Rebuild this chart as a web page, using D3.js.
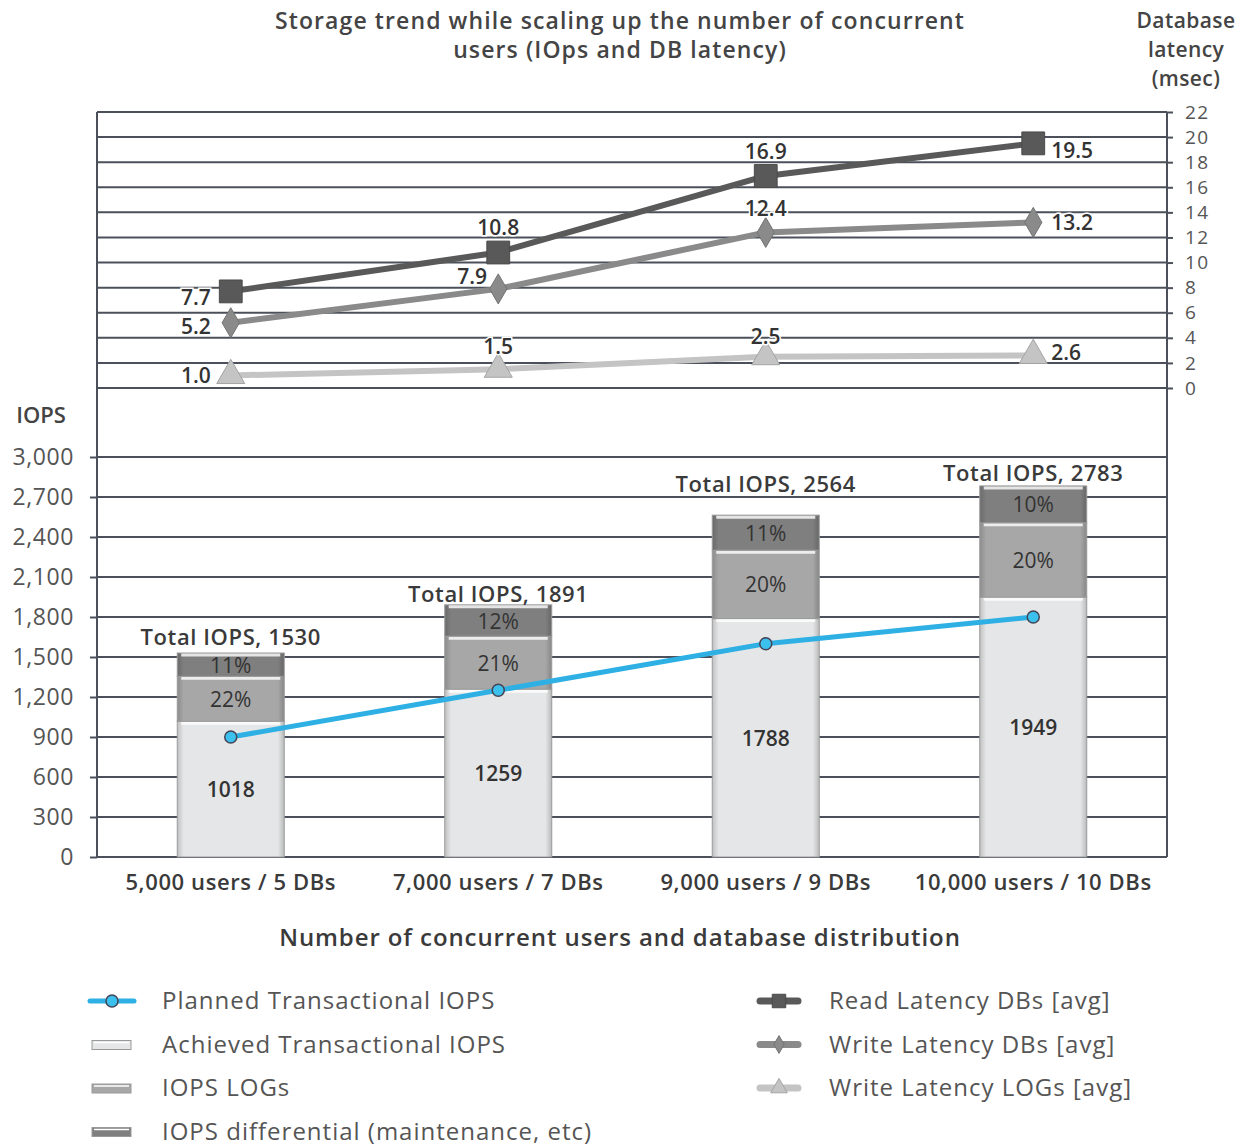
<!DOCTYPE html>
<html>
<head>
<meta charset="utf-8">
<script src="https://cdn.jsdelivr.net/npm/d3@7"></script>
<style>
  body { margin: 0; background: #fff; }
  text { font-family: "Open Sans", sans-serif; }
</style>
</head>
<body>
<div id="chart"></div>
<script>
// data
var categories = ["5,000 users / 5 DBs", "7,000 users / 7 DBs", "9,000 users / 9 DBs", "10,000 users / 10 DBs"];
var achieved = [1018, 1259, 1788, 1949];
var logs = [337, 397, 513, 557];
var differential = [175, 235, 263, 277];
var totals = [1530, 1891, 2564, 2783];
var logsPct = ["22%", "21%", "20%", "20%"];
var diffPct = ["11%", "12%", "11%", "10%"];
var planned = [900, 1250, 1600, 1800];
var readLatency = [7.7, 10.8, 16.9, 19.5];
var writeLatency = [5.2, 7.9, 12.4, 13.2];
var logLatency = [1.0, 1.5, 2.5, 2.6];
var iopsTicks = [0, 300, 600, 900, 1200, 1500, 1800, 2100, 2400, 2700, 3000];
var latTicks = [0, 2, 4, 6, 8, 10, 12, 14, 16, 18, 20, 22];

var W = 1248, H = 1146;
var left = 97, right = 1167;

var svg = d3.select("#chart").append("svg")
  .attr("width", W).attr("height", H);

var defs = svg.append("defs");
function barGrad(id, c) {
  var g = defs.append("linearGradient").attr("id", id).attr("x1", 0).attr("x2", 1).attr("y1", 0).attr("y2", 0);
  g.append("stop").attr("offset", "0%").attr("stop-color", d3.color(c).darker(0.5));
  g.append("stop").attr("offset", "6%").attr("stop-color", c);
  g.append("stop").attr("offset", "94%").attr("stop-color", c);
  g.append("stop").attr("offset", "100%").attr("stop-color", d3.color(c).darker(0.6));
}
barGrad("gAch", "#e5e6e7");
barGrad("gLog", "#a7a7a7");
barGrad("gDif", "#7f7f7f");

var x = d3.scaleBand().domain(categories).range([left, right]).paddingInner(0.6).paddingOuter(0.3);
var xc = function (i) { return x(categories[i]) + x.bandwidth() / 2; };
var yI = d3.scaleLinear().domain([0, 3000]).range([857, 457]);
var yL = d3.scaleLinear().domain([0, 22]).range([388, 112]);

var gridCol = "#4b505a";

// IOPS axis + grid
var axI = svg.append("g").attr("transform", "translate(" + left + ",0)")
  .call(d3.axisLeft(yI).tickValues(iopsTicks).tickFormat(d3.format(",")).tickSize(7).tickPadding(16));
axI.select(".domain").remove();
axI.selectAll("line").attr("stroke", gridCol).attr("stroke-width", 2);
axI.selectAll("text").attr("font-size", 23).attr("fill", "#555")
  .attr("letter-spacing", 0.6).attr("font-family", "'Open Sans', sans-serif");
svg.append("g").selectAll("line").data(iopsTicks).enter().append("line")
  .attr("x1", left).attr("x2", right).attr("y1", yI).attr("y2", yI)
  .attr("stroke", gridCol).attr("stroke-width", 2);

// latency axis + grid
var axL = svg.append("g").attr("transform", "translate(" + right + ",0)")
  .call(d3.axisRight(yL).tickValues(latTicks).tickSize(6).tickPadding(12));
axL.select(".domain").remove();
axL.selectAll("line").attr("stroke", gridCol).attr("stroke-width", 2);
axL.selectAll("text").attr("font-size", 19).attr("fill", "#555")
  .attr("letter-spacing", 1.3).attr("font-family", "'Open Sans', sans-serif");
svg.append("g").selectAll("line").data(latTicks).enter().append("line")
  .attr("x1", left).attr("x2", right).attr("y1", yL).attr("y2", yL)
  .attr("stroke", gridCol).attr("stroke-width", 2);

// frame sides
svg.append("line").attr("x1", left).attr("x2", left).attr("y1", yL(22)).attr("y2", yI(0))
  .attr("stroke", gridCol).attr("stroke-width", 2);
svg.append("line").attr("x1", right).attr("x2", right).attr("y1", yL(22)).attr("y2", yI(0))
  .attr("stroke", gridCol).attr("stroke-width", 2);

// stacked bars
var stackRows = categories.map(function (c, i) {
  return { cat: c, achieved: achieved[i], logs: logs[i], diff: differential[i] };
});
var stacked = d3.stack().keys(["achieved", "logs", "diff"])(stackRows);
var fills = { achieved: "url(#gAch)", logs: "url(#gLog)", diff: "url(#gDif)" };
var bars = svg.append("g");
stacked.forEach(function (layer) {
  var g = bars.append("g");
  g.selectAll("rect").data(layer).enter().append("rect")
    .attr("x", function (d) { return x(d.data.cat); })
    .attr("width", x.bandwidth())
    .attr("y", function (d) { return yI(d[1]); })
    .attr("height", function (d) { return yI(d[0]) - yI(d[1]); })
    .attr("fill", fills[layer.key])
    .attr("stroke", "#9a9a9a").attr("stroke-width", 1);
  // top highlight
  g.selectAll("line").data(layer).enter().append("line")
    .attr("x1", function (d) { return x(d.data.cat) + 4; })
    .attr("x2", function (d) { return x(d.data.cat) + x.bandwidth() - 4; })
    .attr("y1", function (d) { return yI(d[1]) + 2; })
    .attr("y2", function (d) { return yI(d[1]) + 2; })
    .attr("stroke", "#fff").attr("stroke-opacity", 0.8).attr("stroke-width", 3);
});

// bar labels
var totalDy = [-8, -3, -23, -5];
var lbl = svg.append("g").attr("text-anchor", "middle").attr("fill", "#333").attr("font-size", 21);
categories.forEach(function (c, i) {
  var s0 = stacked[0][i], s1 = stacked[1][i], s2 = stacked[2][i];
  lbl.append("text").attr("x", xc(i)).attr("y", (yI(s0[0]) + yI(s0[1])) / 2 + 8)
    .attr("font-weight", 600).text(achieved[i]);
  lbl.append("text").attr("x", xc(i)).attr("y", (yI(s1[0]) + yI(s1[1])) / 2 + 8).text(logsPct[i]);
  lbl.append("text").attr("x", xc(i)).attr("y", (yI(s2[0]) + yI(s2[1])) / 2 + 8).text(diffPct[i]);
  lbl.append("text").attr("x", xc(i)).attr("y", yI(totals[i]) + totalDy[i])
    .attr("font-size", 22).attr("letter-spacing", 0.6)
    .attr("font-weight", 600).attr("fill", "#3a3a3a").text("Total IOPS, " + totals[i]);
});

// planned IOPS line
var plannedLine = d3.line().x(function (d, i) { return xc(i); }).y(function (d) { return yI(d); });
svg.append("path").datum(planned).attr("d", plannedLine)
  .attr("fill", "none").attr("stroke", "#2eb0e4").attr("stroke-width", 5);
svg.append("g").selectAll("circle").data(planned).enter().append("circle")
  .attr("cx", function (d, i) { return xc(i); }).attr("cy", yI)
  .attr("r", 6).attr("fill", "#3cc0ee").attr("stroke", "#445").attr("stroke-width", 1.5);

// latency series
var latSeries = [
  { vals: logLatency, color: "#c4c4c4", mark: d3.symbolTriangle, msize: 340,
    pos: [[-20, 8, "end"], [0, -15, "middle"], [0, -13, "middle"], [18, 5, "start"]] },
  { vals: writeLatency, color: "#8a8a8a", mark: d3.symbolDiamond, msize: 260,
    pos: [[-20, 11, "end"], [-26, -5, "middle"], [0, -16, "middle"], [18, 8, "start"]] },
  { vals: readLatency, color: "#595959", mark: d3.symbolSquare, msize: 520,
    pos: [[-20, 14, "end"], [0, -18, "middle"], [0, -17, "middle"], [18, 15, "start"]] }
];
var latLine = d3.line().x(function (d, i) { return xc(i); }).y(function (d) { return yL(d); });
latSeries.forEach(function (s) {
  svg.append("path").datum(s.vals).attr("d", latLine)
    .attr("fill", "none").attr("stroke", s.color).attr("stroke-width", 6);
});
latSeries.forEach(function (s) {
  svg.append("g").selectAll("path").data(s.vals).enter().append("path")
    .attr("d", d3.symbol().type(s.mark).size(s.msize))
    .attr("transform", function (d, i) { return "translate(" + xc(i) + "," + yL(d) + ")"; })
    .attr("fill", s.color).attr("stroke", d3.color(s.color).darker(0.5)).attr("stroke-width", 1);
  svg.append("g").selectAll("text").data(s.vals).enter().append("text")
    .attr("x", function (d, i) { return xc(i) + s.pos[i][0]; })
    .attr("y", function (d, i) { return yL(d) + s.pos[i][1]; })
    .attr("text-anchor", function (d, i) { return s.pos[i][2]; })
    .attr("font-size", 21).attr("fill", "#333").attr("font-weight", 600)
    .attr("paint-order", "stroke").attr("stroke", "#fff").attr("stroke-width", 3)
    .text(function (d) { return d.toFixed(1); });
});

// category labels
svg.append("g").selectAll("text").data(categories).enter().append("text")
  .attr("x", function (d, i) { return xc(i); }).attr("y", 890)
  .attr("text-anchor", "middle").attr("font-size", 22).attr("letter-spacing", 0.6)
  .attr("font-weight", 600).attr("fill", "#3a3a3a")
  .text(function (d) { return d; });

// titles
var tt = svg.append("text").attr("text-anchor", "middle").attr("font-size", 23)
  .attr("letter-spacing", 1.1).attr("font-weight", 600).attr("fill", "#444");
tt.append("tspan").attr("x", 620).attr("y", 29).text("Storage trend while scaling up the number of concurrent");
tt.append("tspan").attr("x", 620).attr("y", 58).text("users (IOps and DB latency)");
var dl = svg.append("text").attr("text-anchor", "middle").attr("font-size", 21)
  .attr("letter-spacing", 0.4).attr("font-weight", 600).attr("fill", "#444");
["Database", "latency", "(msec)"].forEach(function (t, i) {
  dl.append("tspan").attr("x", 1186).attr("y", 28 + i * 29).text(t);
});
svg.append("text").attr("x", 41).attr("y", 423).attr("text-anchor", "middle")
  .attr("font-size", 22).attr("font-weight", 600).attr("fill", "#444").text("IOPS");
svg.append("text").attr("x", 620).attr("y", 946).attr("text-anchor", "middle")
  .attr("font-size", 24).attr("letter-spacing", 0.9).attr("font-weight", 600).attr("fill", "#3a3a3a")
  .text("Number of concurrent users and database distribution");

// legend
var legLeft = [
  { name: "Planned Transactional IOPS", kind: "line" },
  { name: "Achieved Transactional IOPS", kind: "bar", c: "#e5e6e7" },
  { name: "IOPS LOGs", kind: "bar", c: "#a7a7a7" },
  { name: "IOPS differential (maintenance, etc)", kind: "bar", c: "#7f7f7f" }
];
var lg = svg.append("g");
legLeft.forEach(function (d, i) {
  var y = 1001 + i * 43.5;
  if (d.kind == "line") {
    lg.append("line").attr("x1", 90).attr("x2", 134).attr("y1", y).attr("y2", y)
      .attr("stroke", "#2eb0e4").attr("stroke-width", 5).attr("stroke-linecap", "round");
    lg.append("circle").attr("cx", 112).attr("cy", y).attr("r", 6)
      .attr("fill", "#3cc0ee").attr("stroke", "#445").attr("stroke-width", 1.5);
  } else {
    lg.append("rect").attr("x", 92).attr("y", y - 4).attr("width", 39).attr("height", 9)
      .attr("fill", d.c).attr("stroke", "#999").attr("stroke-width", 1);
    lg.append("line").attr("x1", 94).attr("x2", 129).attr("y1", y - 2).attr("y2", y - 2)
      .attr("stroke", "#fff").attr("stroke-width", 1.5);
  }
  lg.append("text").attr("x", 162).attr("y", y + 8).attr("font-size", 24)
    .attr("letter-spacing", 1.0).attr("fill", "#555").text(d.name);
});
latSeries.slice().reverse().forEach(function (s, i) {
  var y = 1001 + i * 43.5;
  lg.append("line").attr("x1", 760).attr("x2", 798).attr("y1", y).attr("y2", y)
    .attr("stroke", s.color).attr("stroke-width", 7).attr("stroke-linecap", "round");
  lg.append("path").attr("d", d3.symbol().type(s.mark).size(s.msize * 0.35))
    .attr("transform", "translate(779," + y + ")")
    .attr("fill", s.color).attr("stroke", d3.color(s.color).darker(0.5)).attr("stroke-width", 1);
  lg.append("text").attr("x", 829).attr("y", y + 8).attr("font-size", 24)
    .attr("letter-spacing", 1.0).attr("fill", "#555")
    .text(["Read Latency DBs [avg]", "Write Latency DBs [avg]", "Write Latency LOGs [avg]"][i]);
});
</script>
</body>
</html>
